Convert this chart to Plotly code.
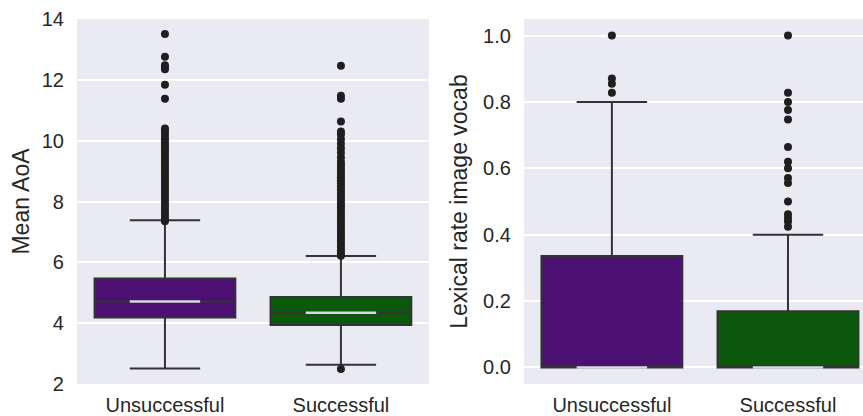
import plotly.graph_objects as go

categories = ["Unsuccessful", "Successful"]
box_colors = ["#4c1072", "#0c580c"]

# Mean AoA stats
aoa_q1 = [4.19, 3.94]
aoa_median = [4.71, 4.34]
aoa_q3 = [5.47, 4.86]
aoa_low = [2.51, 2.63]
aoa_high = [7.38, 6.21]
aoa_out_unsucc = [7.35, 7.45, 7.55, 7.65, 7.75, 7.85, 7.95, 8.05, 8.15, 8.25, 8.35, 8.45,
                  8.55, 8.65, 8.75, 8.85, 8.95, 9.05, 9.15, 9.25, 9.35, 9.45, 9.55, 9.65,
                  9.75, 9.85, 9.95, 10.05, 10.15, 10.25, 10.35, 10.4,
                  11.38, 11.84, 12.35, 12.42, 12.48, 12.76, 13.51]
aoa_out_succ = [2.49,
                6.22, 6.3, 6.4, 6.5, 6.6, 6.7, 6.8, 6.9, 7.0, 7.1, 7.2, 7.3, 7.4, 7.5,
                7.6, 7.7, 7.8, 7.9, 8.0, 8.1, 8.2, 8.3, 8.4, 8.5, 8.6, 8.7, 8.8, 8.9,
                9.0, 9.1, 9.2, 9.3, 9.45, 9.6, 9.75, 9.9, 10.05, 10.2, 10.3, 10.63,
                11.38, 11.48, 12.46]

# Lexical rate image vocab stats
lex_q1 = [0.0, 0.0]
lex_median = [0.0, 0.0]
lex_q3 = [0.336, 0.169]
lex_low = [0.0, 0.0]
lex_high = [0.80, 0.40]
lex_out_unsucc = [0.828, 0.855, 0.871, 1.0]
lex_out_succ = [0.424, 0.44, 0.45, 0.4615, 0.5, 0.556, 0.571, 0.6, 0.62, 0.664,
                0.747, 0.776, 0.8, 0.828, 1.0]

tick_vals = [0, 1]
aoa_ticks = [2, 4, 6, 8, 10, 12, 14]
lex_ticks = [0.0, 0.2, 0.4, 0.6, 0.8, 1.0]

font_family = "Liberation Sans, Arial, sans-serif"
text_color = "#262626"
line_color = "#333333"

fig = go.Figure()


def add_panel(q1, med, q3, lo, hi, outs, xa, ya):
    for i in range(2):
        fig.add_trace(go.Box(
            x=[tick_vals[i]], q1=[q1[i]], median=[med[i]], q3=[q3[i]],
            lowerfence=[lo[i]], upperfence=[hi[i]],
            width=0.8, whiskerwidth=0.5,
            fillcolor=box_colors[i],
            line=dict(color=line_color, width=2),
            boxpoints=False, showlegend=False, hoverinfo="skip",
            xaxis=xa, yaxis=ya,
        ))
        fig.add_trace(go.Scatter(
            x=[tick_vals[i] - 0.2, tick_vals[i] + 0.2], y=[med[i], med[i]],
            mode="lines", line=dict(color="#d8d8e8", width=2.5),
            showlegend=False, hoverinfo="skip", xaxis=xa, yaxis=ya,
        ))
        fig.add_trace(go.Scatter(
            x=[tick_vals[i]] * len(outs[i]), y=outs[i], mode="markers",
            marker=dict(color="#1f1f1f", size=8),
            showlegend=False, hoverinfo="skip", xaxis=xa, yaxis=ya,
        ))


add_panel(aoa_q1, aoa_median, aoa_q3, aoa_low, aoa_high,
          [aoa_out_unsucc, aoa_out_succ], "x", "y")
add_panel(lex_q1, lex_median, lex_q3, lex_low, lex_high,
          [lex_out_unsucc, lex_out_succ], "x2", "y2")

common_x = dict(tickvals=tick_vals, ticktext=categories, showgrid=False, zeroline=False,
                showline=False, ticks="", tickfont=dict(size=20, color=text_color),
                ticklabelstandoff=7)
common_y = dict(showgrid=True, gridcolor="white", gridwidth=1.5, zeroline=False,
                showline=False, ticks="", tickfont=dict(size=20, color=text_color),
                ticklabelstandoff=12)

fig.update_layout(
    width=863, height=416,
    margin=dict(l=0, r=0, t=19, b=30),
    paper_bgcolor="white", plot_bgcolor="#eaeaf2",
    font=dict(family=font_family, color=text_color),
    xaxis=dict(domain=[0.0892, 0.497], range=[-0.5, 1.5], anchor="y", **common_x),
    yaxis=dict(domain=[0, 1], range=[2, 14], tickvals=aoa_ticks, anchor="x",
               title=dict(text="Mean AoA", font=dict(size=23, color=text_color), standoff=5),
               **common_y),
    xaxis2=dict(domain=[0.607, 1.0], range=[-0.5, 1.426], anchor="y2", **common_x),
    yaxis2=dict(domain=[0, 1], range=[-0.05, 1.05], tickvals=lex_ticks, anchor="x2",
                tickformat=".1f",
                title=dict(text="Lexical rate image vocab", font=dict(size=23, color=text_color), standoff=8),
                **common_y),
)

fig.write_html("out.html")
